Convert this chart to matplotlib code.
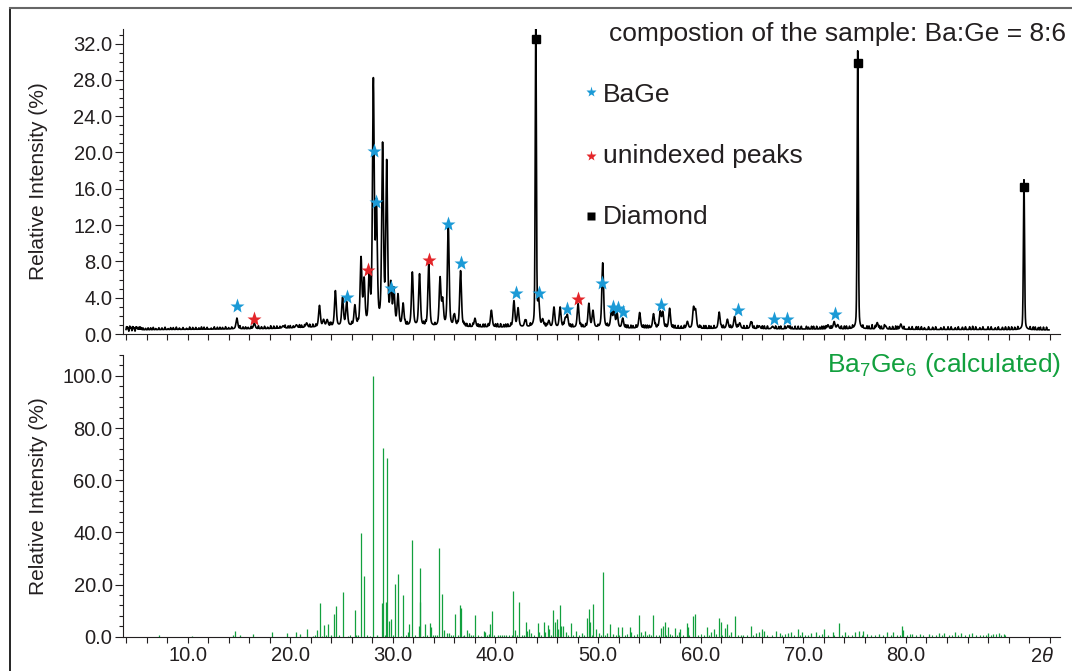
import numpy as np
import matplotlib.pyplot as plt
from matplotlib.lines import Line2D
from matplotlib.ticker import MultipleLocator, FormatStrFormatter

plt.rcParams['font.family'] = ['Liberation Sans', 'DejaVu Sans']
plt.rcParams['mathtext.fontset'] = 'custom'
plt.rcParams['mathtext.rm'] = 'Liberation Sans'
plt.rcParams['mathtext.it'] = 'Liberation Sans:italic'

# --- measured pattern (top panel), read off the picture ---
# background level of the measured trace
bg_x = [4, 8, 14, 18, 21, 24, 30, 36, 42, 46, 52, 58, 64, 70, 76, 82, 88, 94]
bg_y = [0.45, 0.5, 0.55, 0.6, 0.7, 0.8, 0.8, 0.75, 0.75, 0.7, 0.65, 0.6, 0.6, 0.55, 0.55, 0.5, 0.5, 0.45]

# reflections: position (2theta) and peak top (%)
peak_pos = [14.8, 16.5, 19.3, 20.6, 21.6, 22.85, 23.25, 23.6, 24.4, 25.1, 25.5, 26.3,
            26.9, 27.2, 27.7, 28.1, 28.4, 29.0, 29.4, 29.8, 30.1, 30.5, 31.0, 31.9,
            32.6, 33.5, 34.6, 34.85, 35.4, 36.0, 36.6, 38.0, 39.6, 41.8, 42.2, 42.9,
            44.2, 44.6, 45.2, 45.7, 46.3, 46.8, 47.0, 48.05, 49.1, 49.5, 50.45, 51.3,
            51.55, 51.85, 52.4, 54.05, 55.4, 56.05, 56.3, 56.97, 58.7, 59.3, 59.5, 61.8,
            62.6, 63.3, 63.8, 64.9, 65.7, 67.0, 68.5, 72.4, 73.0, 73.35, 77.2, 78.0, 79.5]
peak_top = [1.75, 1.2, 0.9, 1.0, 1.2, 3.1, 1.5, 1.5, 4.7, 3.9, 3.4, 3.0,
            8.1, 5.6, 6.2, 27.3, 13.3, 20.3, 18.4, 5.0, 4.6, 4.1, 3.2, 6.7,
            6.5, 7.6, 6.0, 3.5, 11.9, 2.0, 6.9, 1.7, 2.6, 3.6, 2.8, 1.5,
            3.6, 1.5, 1.4, 2.9, 2.9, 1.6, 2.0, 3.3, 3.3, 2.5, 7.8, 2.4,
            2.5, 2.2, 1.7, 2.35, 2.2, 2.4, 2.35, 2.8, 1.35, 2.8, 2.5, 2.4,
            1.6, 1.9, 1.2, 1.35, 0.9, 0.85, 0.9, 1.0, 1.35, 1.0, 1.25, 0.9, 1.1]

# diamond anvil reflections
diamond_pos = [43.93, 75.3, 91.5]
diamond_top = [34.2, 31.2, 17.0]
diamond_mark = [32.5, 29.9, 16.2]

# small wiggles of the background (position, height)
noise_x = [4.05, 4.12, 4.2, 4.27, 4.35, 4.42, 4.5, 4.57, 4.65, 4.72, 4.8, 4.88, 4.95,
           5.02, 5.1, 5.2, 5.3, 5.4, 5.5, 5.65, 5.9, 6.15, 6.4, 6.65, 6.9, 7.2, 7.5,
           7.8, 8.1, 8.35, 8.6, 8.9, 9.2, 9.55, 9.9, 10.2, 10.5, 10.8, 11.1, 11.35,
           11.6, 11.9, 12.3, 12.6, 12.9, 13.15, 13.4, 13.7, 14.0, 14.3, 15.1, 15.4,
           15.65, 15.9, 16.2, 16.9, 17.2, 17.5, 17.8, 18.1, 18.4, 18.7, 19.0, 19.5,
           19.8, 20.0, 20.3, 20.9, 21.1, 21.4, 21.9, 22.2, 22.5, 23.9, 24.0, 26.0,
           26.6, 31.2, 31.4, 33.0, 33.2, 34.1, 35.9, 36.3, 36.9, 37.0, 37.2, 37.5,
           37.8, 38.3, 38.5, 38.8, 39.0, 39.3, 40.0, 40.2, 40.5, 40.8, 41.0, 41.2,
           41.5, 43.0, 43.4, 44.8, 45.0, 46.6, 47.3, 47.5, 48.3, 48.5, 48.8, 50.0,
           50.9, 52.7, 52.9, 53.2, 53.4, 53.7, 54.4, 54.6, 54.8, 55.0, 55.6, 55.8,
           56.6, 57.3, 57.5, 57.8, 58.1, 58.4, 59.9, 60.0, 60.3, 60.5, 60.8, 61.0,
           61.3, 62.0, 62.2, 62.9, 63.6, 64.2, 64.5, 65.0, 65.2, 65.5, 66.0, 66.2,
           66.5, 67.3, 67.6, 67.8, 68.2, 68.7, 68.9, 69.2, 69.5, 69.8, 70.3, 70.5,
           70.8, 71.0, 71.3, 71.6, 71.8, 72.0, 72.2, 72.7, 73.7, 74.0, 74.2, 74.5,
           74.8, 75.8, 76.2, 76.4, 76.7, 77.0, 77.4, 77.6, 77.9, 78.4, 78.7, 79.0,
           79.2, 79.8, 80.3, 80.6, 81.0, 81.2, 81.5, 81.8, 82.2, 82.6, 82.9, 83.4,
           83.7, 84.1, 84.4, 84.8, 85.1, 85.5, 85.8, 86.2, 86.5, 86.8, 87.2, 87.5,
           88.0, 88.3, 88.7, 89.0, 89.4, 89.7, 90.0, 90.3, 90.6, 90.9, 92.1, 92.4,
           92.6, 92.9, 93.1, 93.4, 93.7]
noise_h = [0.35, 0.3, 0.2, -0.15, 0.4, 0.35, 0.25, -0.1, 0.35, 0.3, 0.2, -0.15, 0.3,
           0.3, 0.25, 0.25, 0.3, 0.3, 0.2, 0.2, 0.15, 0.2, 0.2, 0.25, 0.12, 0.2, 0.18,
           0.25, 0.1, 0.2, 0.2, 0.25, 0.15, 0.2, 0.12, 0.25, 0.2, 0.2, 0.15, 0.25,
           0.22, 0.2, 0.12, 0.25, 0.2, 0.2, 0.18, 0.25, 0.15, 0.2, 0.3, 0.2,
           0.2, 0.15, 0.25, 0.3, 0.2, 0.25, 0.15, 0.3, 0.25, 0.25, 0.2, 0.3,
           0.22, 0.25, 0.2, 0.3, 0.25, 0.25, 0.3, 0.3, 0.25, 0.35, 0.3, 0.3,
           0.3, 0.3, 0.3, 0.3, 0.3, 0.25, 0.3, 0.3, 0.3, 0.25, 0.3, 0.3,
           0.3, 0.3, 0.25, 0.3, 0.3, 0.3, 0.3, 0.35, 0.35, 0.25, 0.3, 0.3,
           0.3, 0.3, 0.3, 0.3, 0.25, 0.3, 0.3, 0.3, 0.3, 0.25, 0.3, 0.2,
           0.3, 0.3, 0.3, 0.3, 0.25, 0.3, 0.3, 0.3, 0.3, 0.25, 0.3, 0.2,
           0.3, 0.3, 0.3, 0.3, 0.25, 0.3, 0.3, 0.25, 0.3, 0.3, 0.3, 0.25,
           0.3, 0.2, 0.3, 0.3, 0.3, 0.3, 0.3, 0.3, 0.25, 0.3, 0.3, 0.3,
           0.3, 0.3, 0.25, 0.3, 0.3, 0.3, 0.2, 0.3, 0.3, 0.3, 0.3, 0.2,
           0.3, 0.3, 0.3, 0.2, 0.3, 0.3, 0.3, 0.3, 0.3, 0.3, 0.3, 0.25,
           0.3, 0.3, 0.3, 0.3, 0.45, 0.3, 0.3, 0.3, 0.3, 0.25, 0.3, 0.35,
           0.3, 0.3, 0.25, 0.3, 0.3, 0.3, 0.3, 0.2, 0.3, 0.25, 0.3, 0.2,
           0.3, 0.3, 0.3, 0.2, 0.3, 0.25, 0.3, 0.3, 0.35, 0.3, 0.2, 0.3,
           0.3, 0.3, 0.2, 0.3, 0.25, 0.3, 0.3, 0.3, 0.25, 0.3, 0.3, 0.3,
           0.3, 0.25, 0.3, 0.3, 0.3]

# phase marks
bage_x = [14.8, 25.5, 28.15, 28.4, 29.8, 35.4, 36.6, 42.0, 44.2, 47.0, 50.35,
          51.5, 51.9, 52.45, 56.15, 63.65, 67.1, 68.4, 73.1]
bage_y = [3.1, 4.1, 20.2, 14.6, 5.1, 12.1, 7.85, 4.55, 4.55, 2.75, 5.65,
          3.0, 2.9, 2.4, 3.2, 2.6, 1.7, 1.7, 2.2]
unidx_x = [16.5, 27.6, 33.5, 48.05]
unidx_y = [1.7, 7.0, 8.15, 3.9]

# --- calculated Ba7Ge6 pattern (bottom panel) ---
calc_pos = [7.2, 10.4, 14.4, 14.65, 15.1, 16.4, 18.25, 19.7, 20.55, 21.0, 21.65, 22.2,
            22.6, 22.9, 23.3, 23.7, 24.0, 24.3, 24.5, 25.1, 26.3, 26.4, 26.9, 27.2,
            28.1, 28.5, 28.97, 29.0, 29.35, 29.4, 29.6, 29.8, 30.2, 30.5, 31.0, 31.5,
            31.6, 31.9, 32.5, 32.6, 32.65, 33.1, 33.6, 33.7, 34.1, 34.5, 34.75, 35.0,
            35.3, 35.45, 36.05, 36.5, 36.6, 36.9, 37.2, 37.4, 37.6, 38.0, 38.9, 39.0,
            39.4, 39.5, 39.7, 40.2, 40.6, 41.0, 41.6, 41.75, 41.9, 42.3, 42.8, 42.95,
            43.1, 43.3, 43.5, 44.15, 44.25, 44.7, 44.85, 45.1, 45.25, 45.65, 45.8, 45.95,
            46.1, 46.25, 46.35, 46.6, 46.85, 47.4, 47.8, 48.4, 48.9, 49.1, 49.25, 49.55,
            49.8, 50.1, 50.5, 50.9, 51.2, 51.5, 51.9, 52.3, 53.1, 53.2, 54.0, 54.15,
            54.6, 55.0, 55.35, 56.1, 56.35, 56.5, 56.8, 57.45, 57.9, 58.0, 58.65, 58.75,
            59.2, 59.45, 60.6, 61.0, 61.3, 61.8, 61.95, 62.4, 62.6, 63.0, 63.35, 63.9,
            64.9, 65.4, 65.7, 65.95, 66.2, 67.3, 67.7, 68.5, 68.8, 69.5, 69.9, 70.7,
            71.2, 72.05, 72.85, 73.45, 74.1, 75.0, 75.4, 75.85, 77.4, 78.2, 78.7, 79.6,
            79.75, 80.6, 81.4, 82.2, 83.2, 83.7, 84.8, 85.4, 86.4, 88.0, 88.5, 89.1, 89.6]
calc_int = [0.6, 0.4, 0.6, 2.3, 0.8, 0.9, 1.9, 1.3, 1.7, 1.0, 2.9, 0.4,
            2.6, 12.8, 4.5, 4.9, 0.6, 8.7, 11.9, 17.3, 10.2, 0.6, 39.9, 23.1,
            100.0, 0.6, 12.8, 72.4, 13.4, 68.7, 6.0, 6.8, 20.1, 24.0, 16.0, 1.9,
            4.9, 37.1, 4.2, 26.2, 13.2, 4.9, 5.1, 3.6, 0.6, 33.9, 16.2, 2.6,
            1.3, 1.3, 8.7, 12.1, 10.9, 0.6, 2.6, 1.3, 0.6, 8.2, 2.3, 1.7,
            1.0, 4.7, 10.0, 0.6, 0.6, 0.5, 0.6, 17.5, 2.6, 13.2, 0.6, 5.5,
            2.2, 2.8, 1.3, 5.1, 1.7, 5.5, 1.7, 4.5, 2.8, 10.2, 5.8, 6.6,
            2.8, 12.1, 4.2, 4.2, 1.7, 5.1, 2.2, 1.3, 7.0, 10.6, 5.8, 12.5,
            2.9, 1.3, 24.9, 1.3, 4.7, 1.0, 3.6, 3.8, 3.8, 1.9, 8.2, 1.9,
            2.2, 1.0, 8.2, 3.2, 4.2, 5.5, 3.6, 3.2, 1.9, 2.8, 5.1, 3.6,
            8.1, 8.7, 3.8, 1.9, 2.8, 7.3, 5.5, 3.2, 4.7, 1.7, 8.1, 0.6,
            4.1, 1.3, 1.7, 2.8, 2.3, 2.3, 1.3, 1.3, 1.7, 2.9, 1.9, 1.3,
            1.9, 2.9, 1.7, 5.1, 1.9, 1.7, 2.2, 2.2, 1.0, 1.7, 1.9, 4.1,
            2.6, 1.0, 1.0, 1.0, 1.3, 1.5, 1.9, 1.5, 1.5, 1.3, 1.0, 1.3, 1.0]
small_pos = [22.4, 23.1, 23.5, 24.8, 25.6, 25.8, 26.6, 27.5, 27.8, 29.2, 30.0, 30.8,
             31.3, 32.2, 32.9, 33.3, 33.9, 34.3, 35.7, 35.9, 36.3, 36.8, 37.8, 38.3,
             38.6, 39.2, 39.9, 40.4, 40.8, 41.3, 42.1, 42.6, 43.8, 44.4, 45.4, 46.0,
             47.1, 47.6, 48.1, 48.6, 49.4, 50.3, 50.7, 51.7, 52.0, 52.6, 52.8, 53.5,
             53.8, 54.4, 54.8, 55.2, 55.6, 55.9, 56.6, 57.0, 57.2, 57.7, 58.3, 58.9,
             59.7, 60.0, 60.3, 60.8, 61.5, 62.1, 62.8, 63.6, 64.1, 64.5, 65.1, 66.5,
             66.9, 67.9, 68.2, 69.1, 69.7, 70.2, 70.5, 71.5, 71.8, 72.4, 73.0, 73.8,
             74.4, 74.7, 75.7, 76.2, 76.6, 77.0, 77.8, 78.5, 79.1, 79.4, 80.1, 80.4,
             81.0, 81.7, 82.5, 82.9, 83.5, 84.2, 84.5, 85.1, 85.8, 86.1, 86.8, 87.2,
             87.5, 87.8, 88.3, 88.8, 89.3, 89.7]
small_int = [0.5, 0.4, 0.6, 0.5, 0.4, 0.7, 0.5, 0.6, 0.4, 0.5, 0.6, 0.4,
             0.5, 0.6, 0.4, 0.7, 0.5, 0.6, 0.7, 0.5, 0.6, 0.4, 0.5, 0.6,
             0.4, 0.6, 0.5, 0.7, 0.5, 0.6, 0.5, 0.7, 0.6, 0.8, 0.7, 0.9,
             0.6, 0.8, 0.5, 0.7, 0.6, 0.7, 0.5, 0.8, 0.6, 0.7, 1.0, 0.6,
             0.9, 0.7, 0.5, 0.8, 0.6, 0.8, 0.7, 0.9, 0.6, 0.8, 0.6, 0.7,
             0.6, 0.9, 0.6, 0.7, 0.9, 0.7, 0.8, 0.5, 0.7, 0.6, 0.6, 0.8,
             0.6, 0.7, 0.9, 0.6, 0.7, 0.8, 0.6, 0.7, 0.9, 0.8, 0.6, 0.7,
             0.8, 0.6, 0.7, 0.9, 0.6, 0.8, 0.6, 0.7, 0.8, 0.6, 0.7, 0.9,
             0.6, 0.7, 0.8, 0.6, 0.7, 0.8, 0.6, 0.7, 0.6, 0.9, 0.7, 0.6,
             0.8, 0.6, 0.7, 0.9, 0.6, 0.7]

BLUE = '#1b9ad6'
RED = '#e4262a'
GREEN = '#12a03e'
TEXT = '#231f20'


def pvoigt(x, x0, h, w, eta):
    d = (x - x0) / w
    return h * (eta / (1 + 4 * d**2) + (1 - eta) * np.exp(-4 * np.log(2) * d**2))


# build the measured trace from the read-off reflections
tt = np.arange(4.0, 93.95, 0.01)
base = np.interp(tt, bg_x, bg_y)
trace = base.copy()
for p, h in zip(peak_pos, peak_top):
    trace += pvoigt(tt, p, h - np.interp(p, bg_x, bg_y), 0.2, 0.45)
for p, h in zip(diamond_pos, diamond_top):
    trace += pvoigt(tt, p, h - np.interp(p, bg_x, bg_y), 0.13, 0.3)
for p, h in zip(noise_x, noise_h):
    trace += pvoigt(tt, p, h, 0.06, 0.0)

fig = plt.figure(figsize=(10.72, 6.71), dpi=100)
ax1 = fig.add_axes([0.1147, 0.5022, 0.874, 0.4545])
ax2 = fig.add_axes([0.1147, 0.0511, 0.874, 0.4198])

ax1.plot(tt, trace, color='black', lw=1.2)
ax1.plot(bage_x, bage_y, '*', color=BLUE, ms=11, mec='none')
ax1.plot(unidx_x, unidx_y, '*', color=RED, ms=11, mec='none')
ax1.plot(diamond_pos, diamond_mark, 's', color='black', ms=5.5)

ax2.vlines(calc_pos, 0, calc_int, color=GREEN, lw=0.9)
ax2.vlines(small_pos, 0, small_int, color=GREEN, lw=0.8)

for ax in (ax1, ax2):
    ax.set_xlim(3.7, 95.0)
    for s in ('top', 'right'):
        ax.spines[s].set_visible(False)
    ax.spines['left'].set_color(TEXT)
    ax.spines['bottom'].set_color(TEXT)
    ax.xaxis.set_major_locator(MultipleLocator(10))
    ax.xaxis.set_minor_locator(MultipleLocator(2))
    ax.tick_params(axis='x', which='both', direction='out', length=4, width=0.8,
                   colors=TEXT, labelsize=14.5, pad=3)
    ax.tick_params(axis='y', which='major', direction='out', length=6, width=0.8,
                   colors=TEXT, labelsize=14.5, pad=1.5)
    ax.tick_params(axis='y', which='minor', direction='out', length=3, width=0.8,
                   colors=TEXT)
    ax.yaxis.set_major_formatter(FormatStrFormatter('%.1f'))
    ax.set_ylabel('Relative Intensity (%)', fontsize=15, color=TEXT)
    ax.yaxis.set_label_coords(-0.08, 0.5)

ax1.set_ylim(0, 33.6)
ax1.yaxis.set_major_locator(MultipleLocator(4))
ax1.yaxis.set_minor_locator(MultipleLocator(1))
ax1.tick_params(axis='x', labelbottom=False)

ax2.set_ylim(0, 108)
ax2.yaxis.set_major_locator(MultipleLocator(20))
ax2.yaxis.set_minor_locator(MultipleLocator(4))
ax2.set_xticks([10, 20, 30, 40, 50, 60, 70, 80, 90])
ax2.set_xticklabels(['10.0', '20.0', '30.0', '40.0', '50.0', '60.0', '70.0', '80.0', ''])
ax2.annotate(r'2$\mathit{\theta}$', xy=(93.3, 0), xycoords=('data', 'axes fraction'),
             xytext=(0, -7.5), textcoords='offset points', ha='center', va='top',
             fontsize=14.5, color=TEXT)

# texts and legend
fig.text(0.9944, 1 - 41 / 671, 'compostion of the sample: Ba:Ge = 8:6', ha='right',
         va='baseline', fontsize=19, color=TEXT)
legend_rows = [('BaGe', '*', BLUE, 8, 92, 102),
               ('unindexed peaks', '*', RED, 8, 156, 163),
               ('Diamond', 's', 'black', 6, 215.5, 224)]
for label, mk, col, ms, ym, yt in legend_rows:
    fig.add_artist(Line2D([591 / 1072], [1 - ym / 671], marker=mk, color=col, ms=ms,
                          mec='none', linestyle='none', transform=fig.transFigure))
    fig.text(603 / 1072, 1 - yt / 671, label, ha='left', va='baseline', fontsize=19,
             color=TEXT)
fig.text(1061 / 1072, 1 - 372 / 671, r'Ba$_7$Ge$_6$ (calculated)', ha='right',
         va='baseline', fontsize=19, color=GREEN)

# frame of the original figure (left and top edges)
fig.add_artist(Line2D([9.5 / 1072, 9.5 / 1072], [0, 1 - 8 / 671], color='black', lw=1.2,
                      transform=fig.transFigure))
fig.add_artist(Line2D([9.5 / 1072, 1], [1 - 8 / 671, 1 - 8 / 671], color='#666666', lw=1.5,
                      transform=fig.transFigure))

fig.savefig('out.png', dpi=100)
